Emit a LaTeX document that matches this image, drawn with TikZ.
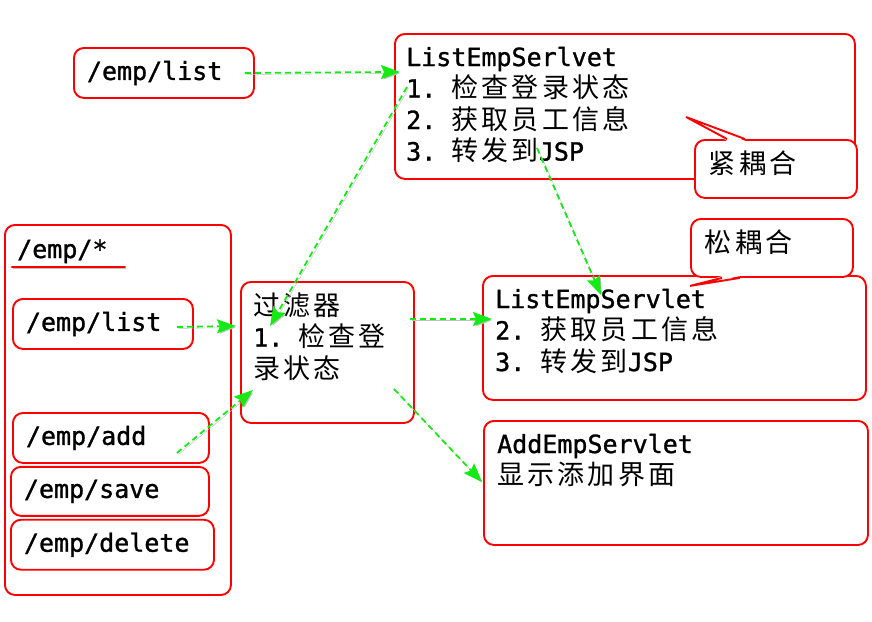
\documentclass[tikz,border=0pt]{standalone}
\usepackage{fontspec}
\setmonofont[FakeBold=1.2]{DejaVu Sans Mono}
\newfontfamily\zhfont[LetterSpace=12]{Noto Sans CJK SC}
\newcommand\zh[1]{{\zhfont\fontsize{27pt}{31.5pt}\selectfont #1}}
\usetikzlibrary{positioning,arrows.meta}
\definecolor{boxred}{RGB}{255,0,0}
\definecolor{flowgreen}{RGB}{20,235,20}
\tikzset{
  >={Stealth[length=19pt,width=14pt,inset=3pt]},
  box/.style={
    draw=boxred,
    line width=1.9pt,
    rounded corners=10pt,
    fill=white,
    inner sep=0pt},
  urlbox/.style={box, inner xsep=13pt, align=left, minimum height=50pt},
  note/.style={box, inner xsep=14pt, align=left, text width=134pt,
    minimum height=58pt, text depth=13pt},
  txt/.style={inner sep=0pt, align=left, anchor=base west},
  flow/.style={draw=flowgreen, line width=1.8pt, dash pattern=on 6pt off 4pt, ->,
    preaction={draw=black!25, ->, transform canvas={shift={(1.5pt,-1.5pt)}}}},
  pointer/.style={draw=boxred, line width=1.9pt},
  underline/.style={draw=boxred, line width=2.8pt, line cap=round,
    preaction={draw=black!25, transform canvas={shift={(1pt,-1.5pt)}}}},
}

\begin{document}
\begin{tikzpicture}
  [x=1pt, y=-1pt, node distance=2pt,
  font=\ttfamily\fontsize{25pt}{31.5pt}\selectfont]
  \useasboundingbox (0,0) rectangle (872,621);

  % top row
  \node[urlbox, text width=154pt, anchor=north west] (list-url) at (73,47) {/emp/list};
  \node[box, minimum width=460pt, minimum height=145pt, anchor=north west] (list-old) at (394,33) {};
  \node[txt] (list-old-txt) at ([shift={(12pt,-127.5pt)}]list-old.north west)
    {ListEmpSerlvet\\1. \zh{检查登录状态}\\2. \zh{获取员工信息}\\3. \zh{转发到}JSP};

  \node[note, anchor=north west] (tight) at (694,139) {\zh{紧耦合}};
  \coordinate (tight-a) at ([xshift=33pt]tight.north west);
  \coordinate (tight-b) at ([xshift=51pt]tight.north west);
  \coordinate (tight-tip) at ([shift={(-8pt,22pt)}]tight.north west);
  \fill[white] ([yshift=-1.8pt]tight-a) -- (tight-tip) -- ([yshift=-1.8pt]tight-b) -- cycle;
  \draw[pointer] (tight-a) -- (tight-tip) -- (tight-b);

  % url patterns
  \node[box, minimum width=226pt, minimum height=370pt, anchor=north west] (emp-all) at (4,224) {};
  \node[txt] (emp-all-txt) at ([shift={(13pt,-34pt)}]emp-all.north west) {/emp/*};
  \draw[underline] ([shift={(-5pt,-9pt)}]emp-all-txt.base west)
    -- ([shift={(17pt,-9pt)}]emp-all-txt.base east);
  \node[urlbox, text width=154pt, anchor=north west] (emp-list) at (12,298) {/emp/list};
  \node[urlbox, text width=170pt, anchor=north west] (emp-add) at (12,412) {/emp/add};
  \node[urlbox, text width=172pt, minimum height=49pt,
    below right=2pt and -2pt of emp-add.south west] (emp-save) {/emp/save};
  \node[urlbox, text width=177pt, below right=2pt and 0pt of emp-save.south west] (emp-delete) {/emp/delete};

  % filter and servlets
  \node[box, minimum width=173pt, minimum height=141pt, anchor=north west] (filter) at (240,281) {};
  \node[txt] (filter-txt) at ([shift={(13pt,-97pt)}]filter.north west)
    {\zh{过滤器}\\1. \zh{检查登}\\\zh{录状态}};

  \node[box, minimum width=383pt, minimum height=124pt, anchor=north west] (list-new) at (482,275) {};
  \node[txt] (list-new-txt) at ([shift={(13pt,-96pt)}]list-new.north west)
    {ListEmpServlet\\2. \zh{获取员工信息}\\3. \zh{转发到}JSP};

  \node[note, anchor=north west] (loose) at (690,218) {\zh{松耦合}};
  \coordinate (loose-a) at ([xshift=32pt]loose.south west);
  \coordinate (loose-b) at ([xshift=50pt]loose.south west);
  \coordinate (loose-tip) at ([yshift=-8pt]loose.south west);
  \fill[white] ([yshift=1.8pt]loose-a) -- (loose-tip) -- ([yshift=1.8pt]loose-b) -- cycle;
  \draw[pointer] (loose-a) -- (loose-tip) -- (loose-b);

  \node[box, minimum width=384pt, minimum height=124pt, anchor=north west] (add-new) at (483,420) {};
  \node[txt] (add-new-txt) at ([shift={(14pt,-64.5pt)}]add-new.north west)
    {AddEmpServlet\\\zh{显示添加界面}};

  % arrow ends
  \coordinate (list-url-out) at ([xshift=-10pt]list-url.east);
  \coordinate (list-old-in) at ([shift={(6pt,-39pt)}]list-old.north west);
  \coordinate (list-old-out1) at ([shift={(13pt,-54pt)}]list-old.north west);
  \coordinate (list-old-out2) at ([shift={(143pt,-115pt)}]list-old.north west);
  \coordinate (emp-list-out) at ([shift={(-17pt,-3pt)}]emp-list.east);
  \coordinate (emp-add-out) at ([shift={(-33pt,-15pt)}]emp-add.east);
  \coordinate (filter-in1) at ([shift={(30pt,-45pt)}]filter.north west);
  \coordinate (filter-in2) at ([shift={(-4pt,-45pt)}]filter.north west);
  \coordinate (filter-in3) at ([shift={(13pt,-109pt)}]filter.north west);
  \coordinate (filter-out1) at ([shift={(170pt,-38pt)}]filter.north west);
  \coordinate (filter-out2) at ([shift={(154pt,-108pt)}]filter.north west);
  \coordinate (list-new-in1) at ([shift={(10pt,-44pt)}]list-new.north west);
  \coordinate (list-new-in2) at ([shift={(119pt,-20pt)}]list-new.north west);
  \coordinate (add-new-in) at ([shift={(-1pt,-62pt)}]add-new.north west);

  \draw[flow] (list-url-out) -- (list-old-in);
  \draw[flow] (list-old-out1) -- (filter-in1);
  \draw[flow] (list-old-out2) -- (list-new-in2);
  \draw[flow] (emp-list-out) -- (filter-in2);
  \draw[flow] (emp-add-out) -- (filter-in3);
  \draw[flow] (filter-out1) -- (list-new-in1);
  \draw[flow] (filter-out2) -- (add-new-in);

\end{tikzpicture}
\end{document}
